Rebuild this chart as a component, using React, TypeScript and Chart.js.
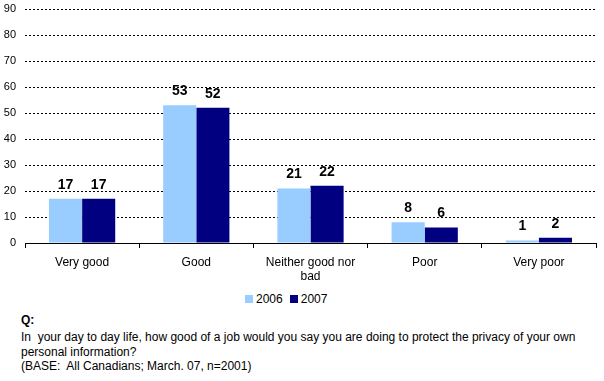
import React, { useEffect, useRef } from "react";
import { Chart, registerables } from "chart.js";

Chart.register(...registerables);

const categories: (string | string[])[] = ["Very good", "Good", ["Neither good nor", "bad"], "Poor", "Very poor"];
const values2006 = [17, 53, 21, 8, 1];
const values2007 = [17, 52, 22, 6, 2];
const yTicks = [0, 10, 20, 30, 40, 50, 60, 70, 80, 90];
const seriesNames = ["2006", "2007"];
const seriesColors = ["#99CCFF", "#000080"];
const questionLabel = "Q:";
const questionLines = [
  "In  your day to day life, how good of a job would you say you are doing to protect the privacy of your own",
  "personal information?",
  "(BASE:  All Canadians; March. 07, n=2001)",
];

const FONT = "'Liberation Sans', Arial, sans-serif";

const valueLabels = {
  id: "valueLabels",
  afterDatasetsDraw(chart: any) {
    const ctx = chart.ctx;
    ctx.save();
    ctx.font = `bold 14px ${FONT}`;
    ctx.fillStyle = "#000";
    ctx.textAlign = "center";
    ctx.textBaseline = "alphabetic";
    chart.data.datasets.forEach((ds: any, i: number) => {
      const meta = chart.getDatasetMeta(i);
      meta.data.forEach((el: any, j: number) => {
        ctx.fillText(String(ds.data[j]), el.x, el.y - 10);
      });
    });
    ctx.restore();
  },
};

export default function App() {
  const ref = useRef<HTMLCanvasElement>(null);
  useEffect(() => {
    if (!ref.current) return;
    const chart = new Chart(ref.current, {
      type: "bar",
      data: {
        labels: categories,
        datasets: seriesNames.map((n, i) => ({
          label: n,
          data: i === 0 ? values2006 : values2007,
          backgroundColor: seriesColors[i],
          borderWidth: 0,
          barPercentage: 1,
          categoryPercentage: 0.58,
        })),
      },
      options: {
        animation: false,
        responsive: false,
        maintainAspectRatio: false,
        layout: { padding: { top: 9, right: 8, bottom: 0, left: 0 } },
        plugins: {
          legend: { display: false },
          tooltip: { enabled: false },
        },
        scales: {
          x: {
            grid: {
              offset: true,
              drawOnChartArea: false,
              drawTicks: true,
              tickLength: 5,
              color: "#000",
            },
            border: { display: true, color: "#000", width: 1 },
            ticks: {
              color: "#000",
              font: { family: FONT, size: 12 },
              padding: 7,
              maxRotation: 0,
              autoSkip: false,
            },
            afterFit: (s: any) => {
              s.height = 47;
              s.paddingLeft = 0;
              s.paddingRight = 0;
            },
          },
          y: {
            min: 0,
            max: 90,
            afterBuildTicks: (s: any) => {
              s.ticks = yTicks.map((v) => ({ value: v }));
            },
            grid: {
              drawTicks: false,
              color: (c: any) => (c.tick && c.tick.value === 0 ? "rgba(0,0,0,0)" : "#000"),
              lineWidth: 1,
            },
            border: { display: false, dash: [2, 2] },
            ticks: {
              color: "#000",
              font: { family: FONT, size: 11 },
              padding: 9,
            },
            afterFit: (s: any) => {
              s.width = 25;
              s.paddingTop = 0;
              s.paddingBottom = 0;
            },
          },
        },
      },
      plugins: [valueLabels],
    });
    return () => chart.destroy();
  }, []);

  return (
    <div
      style={{
        position: "absolute",
        left: 0,
        top: 0,
        width: 604,
        height: 381,
        background: "#fff",
        fontFamily: FONT,
        color: "#000",
      }}
    >
      <canvas ref={ref} width={604} height={290} style={{ position: "absolute", left: 0, top: 0, width: 604, height: 290 }} />
      <div style={{ position: "absolute", left: 245, top: 291, height: 16, display: "flex", alignItems: "center", fontSize: 12, whiteSpace: "nowrap" }}>
        {seriesNames.map((n, i) => (
          <span key={n} style={{ display: "inline-flex", alignItems: "center", marginRight: i === 0 ? 7 : 0 }}>
            <span style={{ display: "inline-block", width: 8, height: 8, background: seriesColors[i], marginRight: 3 }} />
            <span>{n}</span>
          </span>
        ))}
      </div>
      <div style={{ position: "absolute", left: 21, top: 312, fontSize: 12, fontWeight: "bold", lineHeight: "16px" }}>{questionLabel}</div>
      <div style={{ position: "absolute", left: 21, top: 330, fontSize: 12, lineHeight: "14.5px" }}>
        {questionLines.map((l, i) => (
          <div key={i} style={{ whiteSpace: "pre" }}>{l}</div>
        ))}
      </div>
    </div>
  );
}
